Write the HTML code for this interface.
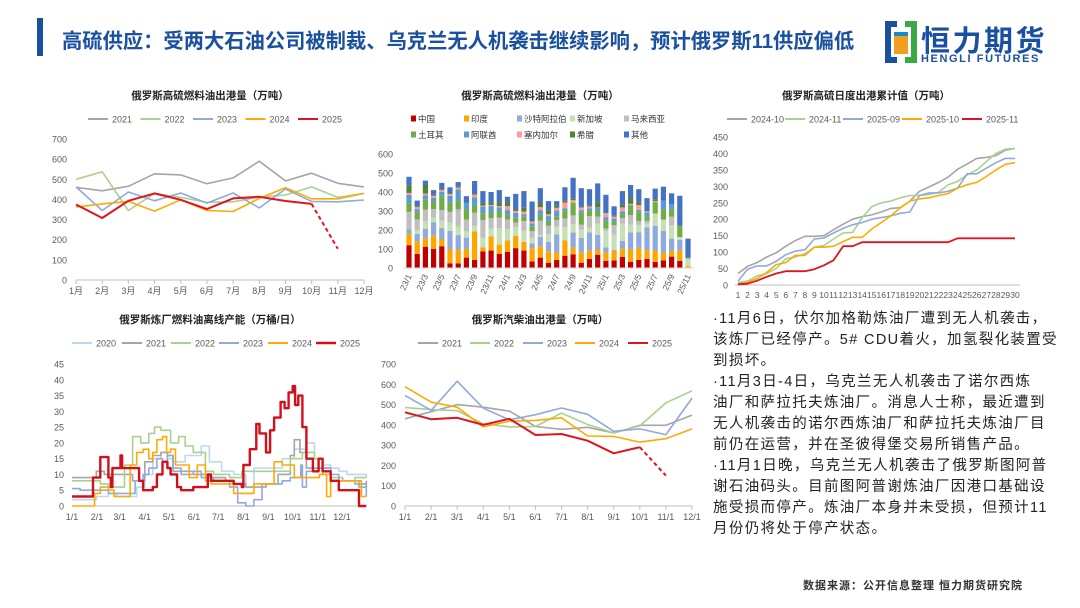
<!DOCTYPE html>
<html><head><meta charset="utf-8">
<style>
body{margin:0;background:#fff;}
#wrap{position:relative;width:1080px;height:608px;overflow:hidden;font-family:"Liberation Sans","Noto Sans CJK SC",sans-serif;}
.txt{position:absolute;left:713px;top:309px;font-size:14.5px;line-height:21px;letter-spacing:1.35px;color:#222;white-space:nowrap;}
</style></head>
<body>
<div id="wrap">
<div style="position:absolute;left:37px;top:18px;width:6px;height:38px;background:#1a50a0"></div>
<div style="position:absolute;left:62px;top:24px;font-size:20.3px;font-weight:bold;color:#1a50a0;white-space:nowrap">高硫供应：受两大石油公司被制裁、乌克兰无人机袭击继续影响，预计俄罗斯11供应偏低</div>
<div style="position:absolute;left:884px;top:20px;width:180px;height:46px">
<svg width="34" height="44" style="position:absolute;left:0;top:0"><rect x="1" y="1" width="12" height="42" fill="#1a50a0"/><rect x="21" y="1" width="12" height="42" fill="#3aa845"/><rect x="7" y="7" width="20" height="30" fill="#fff"/><rect x="10" y="12" width="14" height="22" fill="#f0a020"/><rect x="10" y="12" width="14" height="4" fill="#1a8ad0"/></svg>
<div style="position:absolute;left:37px;top:-2px;font-size:29px;font-weight:bold;color:#1a50a0;letter-spacing:2.5px">恒力期货</div>
<div style="position:absolute;left:37px;top:33px;font-size:11px;color:#1a50a0;font-weight:bold;letter-spacing:1.6px">HENGLI FUTURES</div>
</div>
<div class="txt">·11月6日，伏尔加格勒炼油厂遭到无人机袭击，<br>该炼厂已经停产。5# CDU着火，加氢裂化装置受<br>到损坏。<br>·11月3日-4日，乌克兰无人机袭击了诺尔西炼<br>油厂和萨拉托夫炼油厂。消息人士称，最近遭到<br>无人机袭击的诺尔西炼油厂和萨拉托夫炼油厂目<br>前仍在运营，并在圣彼得堡交易所销售产品。<br>·11月1日晚，乌克兰无人机袭击了俄罗斯图阿普<br>谢石油码头。目前图阿普谢炼油厂因港口基础设<br>施受损而停产。炼油厂本身并未受损，但预计11<br>月份仍将处于停产状态。</div>
<div style="position:absolute;left:803px;top:577px;font-size:11px;font-weight:bold;color:#333;letter-spacing:1px">数据来源：公开信息整理 恒力期货研究院</div>
<svg id="cv" width="1080" height="608" style="position:absolute;left:0;top:0"></svg>
</div>
<script>
// ---- Chart 1: HSFO exports monthly ----
const c1Months=["1月","2月","3月","4月","5月","6月","7月","8月","9月","10月","11月","12月"];
const c1Ticks=[0,100,200,300,400,500,600,700];
const c1Years=["2021","2022","2023","2024","2025"];
const c1y2021=[460,443,465,527,522,478,507,590,492,530,480,462];
const c1y2022=[500,537,345,430,410,385,388,412,422,462,410,430];
const c1y2023=[462,345,437,393,432,382,432,358,452,390,388,397];
const c1y2024=[362,378,390,342,398,345,340,405,458,403,403,430];
const c1y2025=[375,308,393,430,398,352,405,413,392,378];
const c1Forecast=155;
// ---- Chart 2: stacked destinations ----
const c2Cats=[];for(let y=23;y<=25;y++)for(let m=1;m<=12;m++){if(y===25&&m>11)break;c2Cats.push(y+"/"+m);}
const c2Names=["中国","印度","沙特阿拉伯","新加坡","马来西亚","土耳其","阿联酋","塞内加尔","希腊","其他"];
const c2Ticks=[0,100,200,300,400,500,600];
const s2China=[120,75,112,100,115,25,25,55,42,88,92,75,85,105,92,35,55,28,42,65,72,28,48,70,38,40,58,33,42,48,32,40,60,38,0];
const s2India=[60,65,45,70,35,75,68,45,150,20,75,50,60,65,45,70,60,60,40,80,35,55,45,25,45,50,45,65,65,45,60,40,30,55,10];
const s2Saudi=[25,40,50,70,60,95,80,60,0,0,0,0,0,0,0,25,50,50,95,0,80,75,95,80,25,5,40,90,80,120,130,115,65,55,0];
const s2Singapore=[0,20,40,25,40,45,45,35,30,50,40,85,60,45,60,30,10,40,40,70,45,45,25,60,85,80,90,40,40,20,65,60,70,15,40];
const s2Malaysia=[90,55,60,45,55,55,90,60,70,95,55,55,50,25,50,35,75,45,35,45,45,25,60,35,15,50,30,50,20,15,0,0,45,0,0];
const s2Turkey=[45,40,55,40,75,50,45,55,40,35,30,35,25,25,25,25,30,25,20,45,65,65,30,30,40,20,20,50,50,25,60,55,40,60,5];
const s2UAE=[45,15,20,20,20,35,60,35,40,35,35,20,25,25,10,15,25,25,30,10,0,10,10,20,20,15,15,5,10,20,0,45,25,0,0];
const s2Senegal=[10,10,10,10,10,10,10,0,15,5,5,5,20,10,15,10,15,10,15,30,15,15,10,0,20,10,20,5,25,5,5,0,0,0,0];
const s2Greece=[40,5,45,5,5,5,5,0,5,15,15,20,20,10,20,5,25,20,10,10,10,5,5,25,0,5,15,30,15,5,10,0,0,0,0];
const s2Other=[45,30,23,25,33,30,24,33,66,62,53,65,30,80,88,100,75,49,25,70,108,97,87,100,97,50,72,69,68,65,56,73,58,157,100];
// ---- Chart 3: daily cumulative ----
const c3Days=[];for(let d=1;d<=30;d++)c3Days.push(d);
const c3Ticks=[0,50,100,150,200,250,300,350,400,450];
const c3Names=["2024-10","2024-11","2025-09","2025-10","2025-11"];
const c3a=[35,57,68,85,98,118,135,148,148,150,168,185,200,208,213,222,233,235,255,285,298,312,328,352,368,385,388,393,410,415];
const c3b=[8,12,28,35,50,80,85,95,115,120,140,158,160,205,238,250,255,265,272,272,275,282,305,315,335,350,375,400,413,415];
const c3c=[12,48,58,58,72,92,103,107,140,143,158,172,183,190,200,205,210,218,222,272,280,280,285,295,338,338,355,372,385,385];
const c3d=[3,8,20,38,62,68,90,90,115,115,118,132,145,145,170,190,210,235,255,262,265,272,278,295,305,312,330,350,367,372];
const c3e=[2,4,13,25,35,42,42,42,48,60,75,118,118,130,130,130,130,130,130,130,130,130,130,142,142,142,142,142,142,142];
// ---- Chart 4: refinery offline capacity (day-of-year, value) ----
const c4Months=["1/1","2/1","3/1","4/1","5/1","6/1","7/1","8/1","9/1","10/1","11/1","12/1"];
const c4MonthDays=[0,31,59,90,120,151,181,212,243,273,304,334];
const c4Ticks=[0,5,10,15,20,25,30,35,40,45];
const c4Names=["2020","2021","2022","2023","2024","2025"];
const c4y2020=[[0,2],[30,3],[45,4],[55,3],[65,3],[80,6],[90,10],[100,15],[110,17],[118,15],[125,14],[140,16],[150,16],[160,19],[170,14],[185,11],[200,10],[215,6],[225,12],[240,12],[260,15],[275,18],[290,20],[300,15],[310,13],[320,12],[330,11],[340,10],[364,9]];
const c4y2021=[[0,9],[25,9],[30,11],[40,10],[60,10],[75,8],[90,14],[100,16],[110,17],[118,16],[125,11],[135,11],[150,10],[170,9],[190,8],[200,7],[215,6],[240,7],[255,10],[270,16],[275,21],[282,17],[290,12],[305,12],[320,8],[335,8],[355,6],[364,8]];
const c4y2022=[[0,8],[25,8],[35,7],[45,6],[55,6],[65,13],[75,22],[85,20],[95,23],[102,25],[110,24],[122,20],[132,22],[140,19],[150,17],[165,11],[175,10],[195,9],[210,11],[230,11],[250,11],[270,15],[285,17],[300,15],[310,10],[320,9],[335,8],[350,9],[364,9]];
const c4y2023=[[0,5.5],[10,5],[30,5],[45,4],[70,4],[78,8],[88,10],[95,12],[105,15],[112,14],[118,16],[125,12],[135,10],[150,11],[160,9],[175,8],[195,6],[205,1],[215,0],[225,2],[235,7],[260,8],[270,9],[283,13],[285,6],[290,11],[305,12],[320,10],[330,8],[350,7],[364,3]];
const c4y2024=[[0,0],[25,0],[28,4],[35,6],[45,5],[52,3],[70,3],[72,13],[80,17],[88,18],[95,15],[100,17],[105,21],[112,22],[117,17],[122,18],[128,13],[135,13],[145,9],[155,13],[165,8],[172,7],[185,7],[200,4],[210,4],[225,7],[240,7],[250,14],[260,13],[268,13],[275,9],[300,9],[306,10],[315,3],[320,8],[330,8],[350,8],[358,3],[364,3]];
const c4y2025=[[0,3],[25,3],[26,9],[35,15.5],[45,9],[48,6],[50,12],[60,16],[62,12],[75,12],[83,8],[88,5],[100,6],[105,10],[112,14],[118,12],[122,10],[130,6],[135,5],[150,6],[160,6],[168,10],[172,8],[185,8],[200,7],[210,6],[212,13],[220,18],[228,26],[232,23],[240,17],[245,24],[250,28],[258,33],[263,31],[268,36],[273,38],[276,32],[280,35],[285,25],[290,15],[298,11],[305,15],[310,11],[320,8],[330,5],[345,5],[355,0],[364,0]];
// ---- Chart 5: diesel exports ----
const c5Months=["1/1","2/1","3/1","4/1","5/1","6/1","7/1","8/1","9/1","10/1","11/1","12/1"];
const c5Ticks=[0,100,200,300,400,500,600,700];
const c5y2021=[430,465,500,487,468,392,378,388,360,398,398,448];
const c5y2022=[485,475,470,405,390,392,458,402,360,395,508,568];
const c5y2023=[545,472,615,482,425,450,483,452,368,380,352,532];
const c5y2024=[588,512,487,390,418,422,435,345,343,315,332,380];
const c5y2025=[462,428,435,400,430,350,355,322,260,290];
const c5Forecast=150;

const NS="http://www.w3.org/2000/svg";
const svg=document.getElementById('cv');
const FONT='"Liberation Sans","Noto Sans CJK SC",sans-serif';
function mk(tag,at,parent){const e=document.createElementNS(NS,tag);for(const k in at)e.setAttribute(k,at[k]);(parent||svg).appendChild(e);return e;}
function txt(x,y,s,size,anchor,fill,weight,parent){const t=mk('text',{x:x,y:y,'font-size':size,'text-anchor':anchor||'start',fill:fill||'#595959','font-family':FONT,'font-weight':weight||'normal'},parent);t.textContent=s;return t;}
const GRAY='#a5a5a5',GREEN='#a9d18e',BLUE='#8faadc',ORANGE='#ffaa00',RED='#e0141e',LBLUE='#bdd7ee';

function frame(name,title,tx,ty){const g=mk('g',{});
 const t=txt(tx,ty,title,10.5,'middle','#222','bold',g);return g;}
function legendLine(g,x,y,label,color,w){const l=mk('line',{x1:x,y1:y,x2:x+20,y2:y,stroke:color,'stroke-width':w||2},g);
 const t=txt(x+24,y+3.5,label,9,'start','#595959','normal',g);
 
 }
function yAxis(g,ticks,yf,x,name){ticks.forEach(v=>{const t=txt(x,yf(v)+3.5,String(v),9,'end','#595959','normal',g);});}
function poly(g,pts,color,w,name,dash){const p=mk('polyline',{points:pts.map(p=>p[0].toFixed(1)+','+p[1].toFixed(1)).join(' '),fill:'none',stroke:color,'stroke-width':w,'stroke-linejoin':'round'},g);if(dash)p.setAttribute('stroke-dasharray',dash);
 return p;}

// Chart 1
(function(){const g=frame('chart-hsfo-monthly','俄罗斯高硫燃料油出港量（万吨）',210,99);
 const x0=76,x1=364,y0=280,y1=139;const xf=i=>x0+(x1-x0)*i/11;const yf=v=>y0-(y0-y1)*v/700;
 yAxis(g,c1Ticks,yf,67,'c1-y');
 const ax=mk('line',{x1:x0,y1:y0,x2:x1,y2:y0,stroke:'#bfbfbf','stroke-width':1},g);
 c1Months.forEach((m,i)=>{mk('line',{x1:xf(i),y1:y0,x2:xf(i),y2:y0+4,stroke:'#bfbfbf'},g);const t=txt(xf(i),y0+14,m,9,'middle','#595959','normal',g);});
 const ser=[c1y2021,c1y2022,c1y2023,c1y2024,c1y2025],cols=[GRAY,GREEN,BLUE,ORANGE,RED];
 ser.forEach((s,k)=>poly(g,s.map((v,i)=>[xf(i),yf(v)]),cols[k],k===4?2:1.6,'c1-line-'+c1Years[k]));
 const n=c1y2025.length;poly(g,[[xf(n-1),yf(c1y2025[n-1])],[xf(n),yf(c1Forecast)]],RED,2,'c1-forecast-2025','4,3');
 c1Years.forEach((y,k)=>legendLine(g,88+52.5*k,119,y,cols[k]));
})();

// Chart 2
(function(){const g=frame('chart-hsfo-destinations','俄罗斯高硫燃料油出港量（万吨）',540,99);
 const x0=409,x1=688,y0=268,y1=154;const n=c2Cats.length;const xf=i=>x0+(x1-x0)*i/(n-1);const yf=v=>y0-(y0-y1)*v/600;
 yAxis(g,c2Ticks,yf,393,'c2-y');
 const ser=[s2China,s2India,s2Saudi,s2Singapore,s2Malaysia,s2Turkey,s2UAE,s2Senegal,s2Greece,s2Other];
 const cols=['#c00000','#ffa500','#8faadc','#c5e0b4','#bfbfbf','#70ad47','#5b9bd5','#ff9b9b','#548235','#4472c4'];
 for(let i=0;i<n;i++){let acc=0;ser.forEach((s,k)=>{const v=s[i];if(v>0){const r=mk('rect',{x:(xf(i)-2.6).toFixed(1),y:yf(acc+v).toFixed(1),width:5.2,height:(yf(acc)-yf(acc+v)).toFixed(1),fill:cols[k]},g);
   
   }acc+=v;});}
 mk('line',{x1:x0-6,y1:y0,x2:x1+6,y2:y0,stroke:'#d9d9d9'},g);
 c2Cats.forEach((c,i)=>{if(i%2)return;const t=txt(xf(i)+3,y0+8,c,8.5,'end','#595959','normal',g);t.setAttribute('transform','rotate(-65 '+(xf(i)+3)+' '+(y0+8)+')');});
 const lx=[411,464,517,570,624];c2Names.forEach((nm,k)=>{const x=lx[k%5],y=k<5?119:135;const r=mk('rect',{x:x,y:y-3.5,width:5,height:6,fill:cols[k]},g);
  const t=txt(x+7,y+3,nm,8.5,'start','#333','normal',g);});
})();

// Chart 3
(function(){const g=frame('chart-daily-cumulative','俄罗斯高硫日度出港累计值（万吨）',866,99);
 const x0=738,x1=1015,y0=285,y1=137;const xf=i=>x0+(x1-x0)*i/29;const yf=v=>y0-(y0-y1)*v/450;
 yAxis(g,c3Ticks,yf,728,'c3-y');
 mk('line',{x1:x0-3,y1:y0,x2:x1+5,y2:y0,stroke:'#bfbfbf'},g);
 c3Days.forEach((d,i)=>{const t=txt(xf(i),y0+13,String(d),8.5,'middle','#595959','normal',g);});
 const ser=[c3a,c3b,c3c,c3d,c3e],cols=[GRAY,GREEN,BLUE,ORANGE,RED];
 ser.forEach((s,k)=>poly(g,s.map((v,i)=>[xf(i),yf(v)]),cols[k],k===4?1.8:1.6,'c3-line-'+c3Names[k]));
 const lx=[727,785,843,902,962];c3Names.forEach((nm,k)=>legendLine(g,lx[k],119,nm,cols[k]));
})();

// Chart 4
(function(){const g=frame('chart-refinery-offline','俄罗斯炼厂燃料油离线产能（万桶/日）',210,323);
 const x0=72,x1=342,y0=506,y1=364;const xf=d=>x0+(x1-x0)*d/334;const yf=v=>y0-(y0-y1)*v/45;
 yAxis(g,c4Ticks,yf,64,'c4-y');
 mk('line',{x1:x0,y1:y0,x2:365,y2:y0,stroke:'#bfbfbf'},g);
 c4Months.forEach((m,i)=>{const t=txt(xf(c4MonthDays[i]),y0+14,m,9,'middle','#595959','normal',g);});
 const ser=[c4y2020,c4y2021,c4y2022,c4y2023,c4y2024,c4y2025],cols=[LBLUE,GRAY,GREEN,BLUE,ORANGE,'#d0101a'];
 ser.forEach((s,k)=>{const pts=[];s.forEach((p,i)=>{if(i>0)pts.push([xf(p[0]),yf(s[i-1][1])]);pts.push([xf(p[0]),yf(p[1])]);});poly(g,pts,cols[k],k===5?2.4:1.6,'c4-line-'+c4Names[k]);});
 const lx=[72,122,171,219,268,316];c4Names.forEach((nm,k)=>legendLine(g,lx[k],343,nm,cols[k],k===5?2.5:2));
})();

// Chart 5
(function(){const g=frame('chart-diesel-exports','俄罗斯汽柴油出港量（万吨）',540,323);
 const x0=405,x1=692,y0=506,y1=364;const xf=i=>x0+(x1-x0)*i/11;const yf=v=>y0-(y0-y1)*v/700;
 yAxis(g,c5Ticks,yf,396,'c5-y');
 mk('line',{x1:x0,y1:y0,x2:x1,y2:y0,stroke:'#bfbfbf'},g);
 c5Months.forEach((m,i)=>{mk('line',{x1:xf(i),y1:y0,x2:xf(i),y2:y0+4,stroke:'#bfbfbf'},g);const t=txt(xf(i),y0+14,m,9,'middle','#595959','normal',g);});
 const ser=[c5y2021,c5y2022,c5y2023,c5y2024,c5y2025],cols=[GRAY,GREEN,BLUE,ORANGE,RED];
 ser.forEach((s,k)=>poly(g,s.map((v,i)=>[xf(i),yf(v)]),cols[k],k===4?2:1.6,'c5-line-'+c1Years[k]));
 const n=c5y2025.length;poly(g,[[xf(n-1),yf(c5y2025[n-1])],[xf(n),yf(c5Forecast)]],RED,2,'c5-forecast-2025','4,3');
 const lx=[418,470,523,575,628];c1Years.forEach((y,k)=>legendLine(g,lx[k],343,y,cols[k]));
})();
</script>
</body></html>
